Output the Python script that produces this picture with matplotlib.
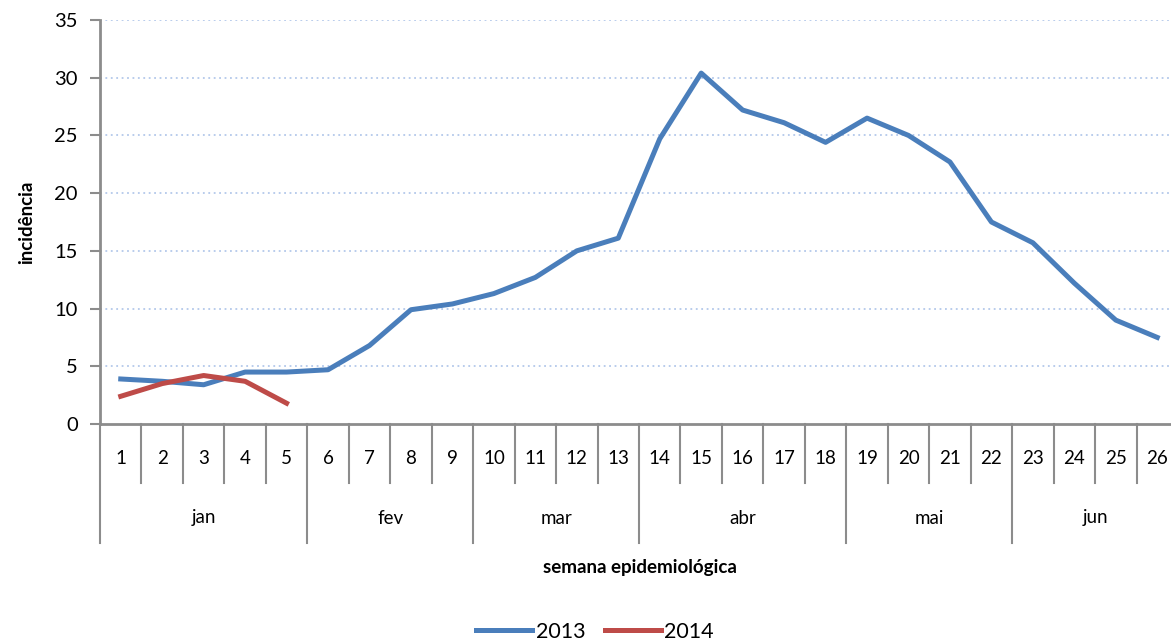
import matplotlib
matplotlib.use("Agg")
import matplotlib.pyplot as plt
import matplotlib.transforms as mtransforms
from matplotlib.lines import Line2D

# data
semanas = list(range(1, 27))
inc_2013 = [3.9, 3.7, 3.4, 4.5, 4.5, 4.7, 6.8, 9.9, 10.4, 11.3, 12.7, 15.0, 16.1,
            24.7, 30.4, 27.2, 26.1, 24.4, 26.5, 25.0, 22.7, 17.5, 15.7, 12.2, 9.0, 7.5]
inc_2014 = [2.4, 3.5, 4.2, 3.7, 1.8]
meses = ["jan", "fev", "mar", "abr", "mai", "jun"]
semanas_por_mes = [5, 4, 4, 5, 4, 4]
yticks = [0, 5, 10, 15, 20, 25, 30, 35]

plt.rcParams['font.family'] = ['Lato', 'DejaVu Sans']
axis_grey = "#8c8c8c"

fig = plt.figure(figsize=(11.71, 6.41), dpi=100)
W, H = 1171, 641
# plot area (pixels): left 100, right ~1178 (cropped by image), top 20, bottom 424
ax = fig.add_axes([100 / W, (H - 424) / H, 1078 / W, 404 / H])

ax.plot(semanas, inc_2013, color="#4a7ebb", lw=3.6, label="2013")
ax.plot(semanas[:len(inc_2014)], inc_2014, color="#be4b48", lw=3.6, label="2014")

ax.set_xlim(0.5, 26.5)
ax.set_ylim(0, 35)
ax.set_yticks(yticks)
ax.tick_params(axis='y', direction='out', length=7, width=1.5, color=axis_grey,
               labelsize=14.5, pad=9)
ax.set_xticks([])
for y in yticks[1:]:
    ax.axhline(y, color="#b3c8ea", lw=1.3, ls=(0, (1, 2)), zorder=0)

for side in ["top", "right"]:
    ax.spines[side].set_visible(False)
for side in ["left", "bottom"]:
    ax.spines[side].set_color(axis_grey)
    ax.spines[side].set_linewidth(2)

ax.set_ylabel("incidência", fontsize=13.5, fontweight="bold", labelpad=14)

# multi level category axis
trans = mtransforms.blended_transform_factory(ax.transData, ax.transAxes)
short_len = -59 / 404
long_len = -119 / 404
month_edges = [0.5]
for n in semanas_por_mes:
    month_edges.append(month_edges[-1] + n)
for k in range(27):
    x = k + 0.5
    y_end = long_len if x in month_edges else short_len
    ax.plot([x, x], [0, y_end], color=axis_grey, lw=1.5, transform=trans, clip_on=False)
for s in semanas:
    ax.text(s, -34 / 404, str(s), transform=trans, ha="center", va="center", fontsize=13.5)
for i, m in enumerate(meses):
    xc = (month_edges[i] + month_edges[i + 1]) / 2
    ax.text(xc, -94 / 404, m, transform=trans, ha="center", va="center", fontsize=13.5)

fig.text(640 / W, 1 - 567 / H, "semana epidemiológica", ha="center", va="center",
         fontsize=13.5, fontweight="bold")

handles = [Line2D([], [], color="#4a7ebb", lw=3.6), Line2D([], [], color="#be4b48", lw=3.6)]
fig.legend(handles, ["2013", "2014"], loc="center", bbox_to_anchor=(595 / W, 1 - 632 / H),
           ncol=2, frameon=False, fontsize=15.5, handlelength=2.6, handletextpad=0.15,
           columnspacing=0.9)

fig.savefig("out.png", dpi=100)
